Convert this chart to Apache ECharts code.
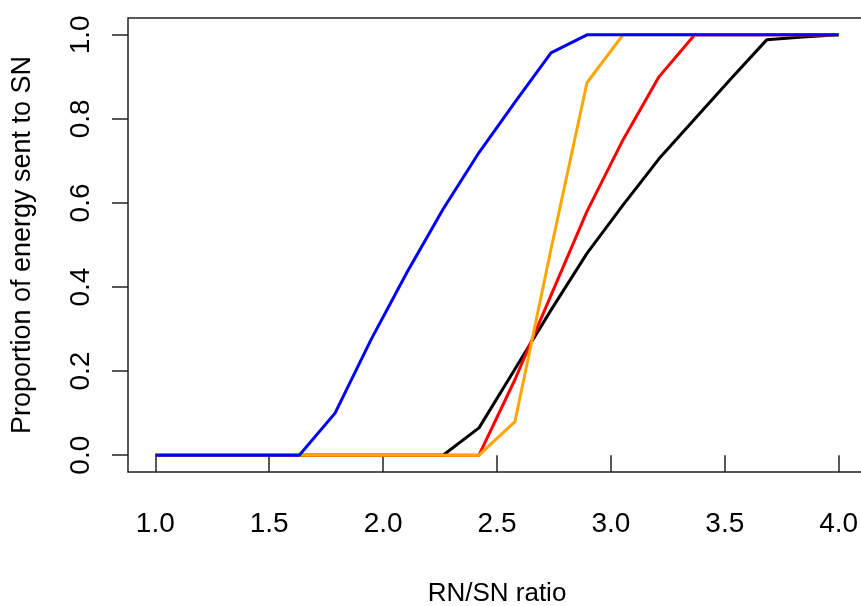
<!DOCTYPE html>
<html>
<head>
<meta charset="utf-8">
<script src="https://cdn.jsdelivr.net/npm/echarts@6/dist/echarts.min.js"></script>
<style>
  html, body { margin: 0; padding: 0; background: #fff; }
  #chart { width: 861px; height: 606px; }
</style>
</head>
<body>
<div id="chart"></div>
<script>
// RN/SN ratio grid (20 evenly spaced points from 1 to 4)
const ratio = [1.000, 1.158, 1.316, 1.474, 1.632, 1.789, 1.947, 2.105, 2.263, 2.421,
               2.579, 2.737, 2.895, 3.053, 3.211, 3.368, 3.526, 3.684, 3.842, 4.000];

// Proportion of energy sent to SN for each scenario
const blackVals  = [0, 0, 0, 0, 0, 0, 0, 0, 0, 0.065, 0.205, 0.345, 0.48, 0.595, 0.705, 0.80, 0.895, 0.988, 0.995, 1.0];
const redVals    = [0, 0, 0, 0, 0, 0, 0, 0, 0, 0, 0.18, 0.38, 0.58, 0.75, 0.90, 1.0, 1.0, 1.0, 1.0, 1.0];
const orangeVals = [0, 0, 0, 0, 0, 0, 0, 0, 0, 0, 0.08, 0.49, 0.886, 1.0, 1.0, 1.0, 1.0, 1.0, 1.0, 1.0];
const blueVals   = [0, 0, 0, 0, 0, 0.10, 0.275, 0.435, 0.585, 0.72, 0.84, 0.957, 1.0, 1.0, 1.0, 1.0, 1.0, 1.0, 1.0, 1.0];

// Axis ticks
const xTicks = [1.0, 1.5, 2.0, 2.5, 3.0, 3.5, 4.0];
const yTicks = [0.0, 0.2, 0.4, 0.6, 0.8, 1.0];

const pairs = vals => ratio.map((r, i) => [r, vals[i]]);

function line(name, color, vals) {
  return {
    name, type: 'line', data: pairs(vals),
    showSymbol: false, symbol: 'none',
    lineStyle: { color, width: 3 },
    animation: false, z: 2
  };
}

const FONT = '"Liberation Sans", Arial, sans-serif';

const chart = echarts.init(document.getElementById('chart'), null, { renderer: 'canvas' });
chart.setOption({
  backgroundColor: '#ffffff',
  animation: false,
  grid: {
    left: 128, top: 18, width: 738, height: 454,
    outerBoundsMode: 'none', containLabel: false,
    show: true, borderColor: '#222', borderWidth: 1.5, backgroundColor: 'transparent'
  },
  xAxis: {
    type: 'value', min: 0.88, max: 4.12,
    name: 'RN/SN ratio', nameLocation: 'middle', nameGap: 109,
    nameTextStyle: { fontFamily: FONT, fontSize: 26, color: '#000' },
    axisLine: { show: false },
    splitLine: { show: false },
    axisTick: { show: true, customValues: xTicks, length: 17, lineStyle: { color: '#222', width: 1.5 } },
    axisLabel: {
      customValues: xTicks, margin: 38,
      formatter: v => v.toFixed(1),
      fontFamily: FONT, fontSize: 28, color: '#000'
    }
  },
  yAxis: {
    type: 'value', min: -0.04, max: 1.04,
    name: 'Proportion of energy sent to SN', nameLocation: 'middle', nameGap: 92, nameRotate: 90,
    nameTextStyle: { fontFamily: FONT, fontSize: 27, color: '#000' },
    axisLine: { show: false },
    splitLine: { show: false },
    axisTick: { show: true, customValues: yTicks, length: 16, lineStyle: { color: '#222', width: 1.5 } },
    axisLabel: {
      customValues: yTicks, margin: 33, rotate: 90,
      formatter: v => v.toFixed(1),
      fontFamily: FONT, fontSize: 28, color: '#000'
    }
  },
  series: [
    line('black', '#000000', blackVals),
    line('red', '#ff0000', redVals),
    line('orange', '#ffa500', orangeVals),
    line('blue', '#0000ff', blueVals)
  ]
});
</script>
</body>
</html>
